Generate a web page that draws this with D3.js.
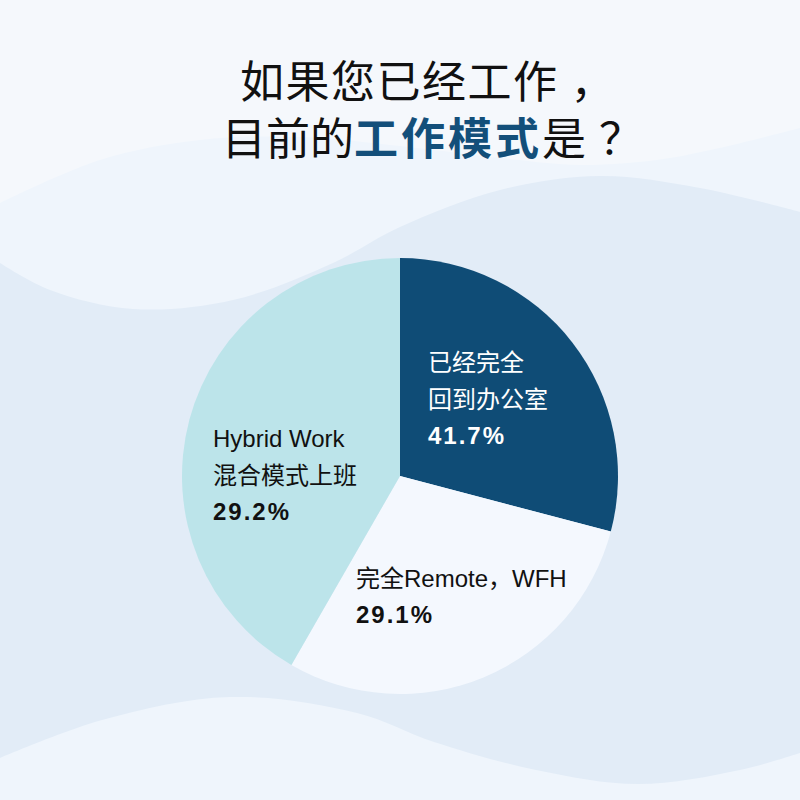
<!DOCTYPE html>
<html>
<head>
<meta charset="utf-8">
<script src="https://cdn.jsdelivr.net/npm/d3@7/dist/d3.min.js"></script>
<style>
  html, body { margin: 0; padding: 0; background: #f5f8fc; }
  svg { display: block; }
  .lbl { font-family: 'Liberation Sans', 'Noto Sans CJK SC', sans-serif; font-size: 24px; }
  .pct { font-weight: bold; letter-spacing: 2px; }
</style>
</head>
<body>
<div id="chart"></div>
<script>
// slice order as drawn, clockwise from 12 o'clock
const categories = ['已经完全回到办公室', '完全Remote，WFH', 'Hybrid Work 混合模式上班'];
const sliceShares = [29.1, 29.2, 41.7];
// percentages printed on the slices (as they appear in the picture)
const labelPercents = ['41.7%', '29.1%', '29.2%'];
const labelLines = [
  ['已经完全', '回到办公室'],
  ['完全Remote，WFH'],
  ['Hybrid Work', '混合模式上班']
];
const titleLine1 = [['如果您已经工作', false], ['，', false]];
const titleLine2 = [['目前的', false], ['工作模式', true], ['是', false], ['？', false]];

(function () {
  const W = 800, H = 800;
  const COLORS = ['#0f4c76', '#f4f8fe', '#bce4ea'];
  const TEXT_FILL = ['#ffffff', '#111111', '#111111'];

  const svg = d3.select('#chart').append('svg')
    .attr('width', W).attr('height', H)
    .attr('viewBox', `0 0 ${W} ${H}`);

  // background waves
  svg.append('rect').attr('width', W).attr('height', H).attr('fill', '#f5f8fc');

  const wave = (pts, fill) => {
    const line = d3.line().curve(d3.curveCatmullRom.alpha(0.5));
    const d = line(pts) + `L${W},${H}L0,${H}Z`;
    svg.append('path').attr('d', d).attr('fill', fill);
  };

  wave([[0, 203], [100, 160], [200, 140], [300, 137], [400, 146], [500, 158],
        [580, 165], [670, 158], [800, 128]], '#eff5fc');
  wave([[0, 263], [50, 290], [133, 309], [233, 300], [333, 263], [400, 227],
        [500, 190], [600, 176], [700, 188], [800, 212]], '#e2ecf7');
  wave([[0, 758], [102, 720], [230, 697], [357, 713], [434, 742], [536, 770],
        [638, 784], [740, 770], [800, 753]], '#eff5fc');

  // title
  const title = svg.append('g')
    .attr('font-family', "'Noto Sans CJK SC', sans-serif")
    .attr('font-size', 44);

  // punctuation sits further right than the SC glyph box puts it
  const PUNCT_DX = { '，': 12, '？': 13 };

  const writeLine = (x, y, segments, spacing) => {
    const t = title.append('text').attr('x', x).attr('y', y);
    segments.forEach(([txt, strong]) => {
      const sp = t.append('tspan')
        .attr('fill', strong ? '#134f7a' : '#111111')
        .attr('font-weight', strong ? 'bold' : 'normal')
        .attr('letter-spacing', strong ? 3 : spacing)
        .text(txt);
      if (PUNCT_DX[txt]) sp.attr('dx', PUNCT_DX[txt]);
    });
  };

  writeLine(240, 98, titleLine1, 1.5);
  writeLine(222, 155, titleLine2, 0);

  // pie
  const cx = 400, cy = 476, radius = 218;
  const pie = d3.pie().sort(null).value(d => d);
  const arc = d3.arc().innerRadius(0).outerRadius(radius);

  const g = svg.append('g').attr('transform', `translate(${cx},${cy})`);
  g.selectAll('path.slice')
    .data(pie(sliceShares))
    .enter()
    .append('path')
    .attr('class', 'slice')
    .attr('d', arc)
    .attr('fill', (d, i) => COLORS[i]);

  // label anchors relative to the pie centre
  const LABEL_POS = [[28, -105], [-44, 111], [-187, -29]];
  const LINE_GAP = 37;

  labelLines.forEach((lines, i) => {
    const [lx, ly] = LABEL_POS[i];
    const txt = g.append('text')
      .attr('class', 'lbl')
      .attr('fill', TEXT_FILL[i]);
    lines.forEach((ln, j) => {
      txt.append('tspan').attr('x', lx).attr('y', ly + j * LINE_GAP).text(ln);
    });
    txt.append('tspan')
      .attr('class', 'pct')
      .attr('x', lx).attr('y', ly + lines.length * LINE_GAP - 1)
      .text(labelPercents[i]);
  });
})();
</script>
</body>
</html>
